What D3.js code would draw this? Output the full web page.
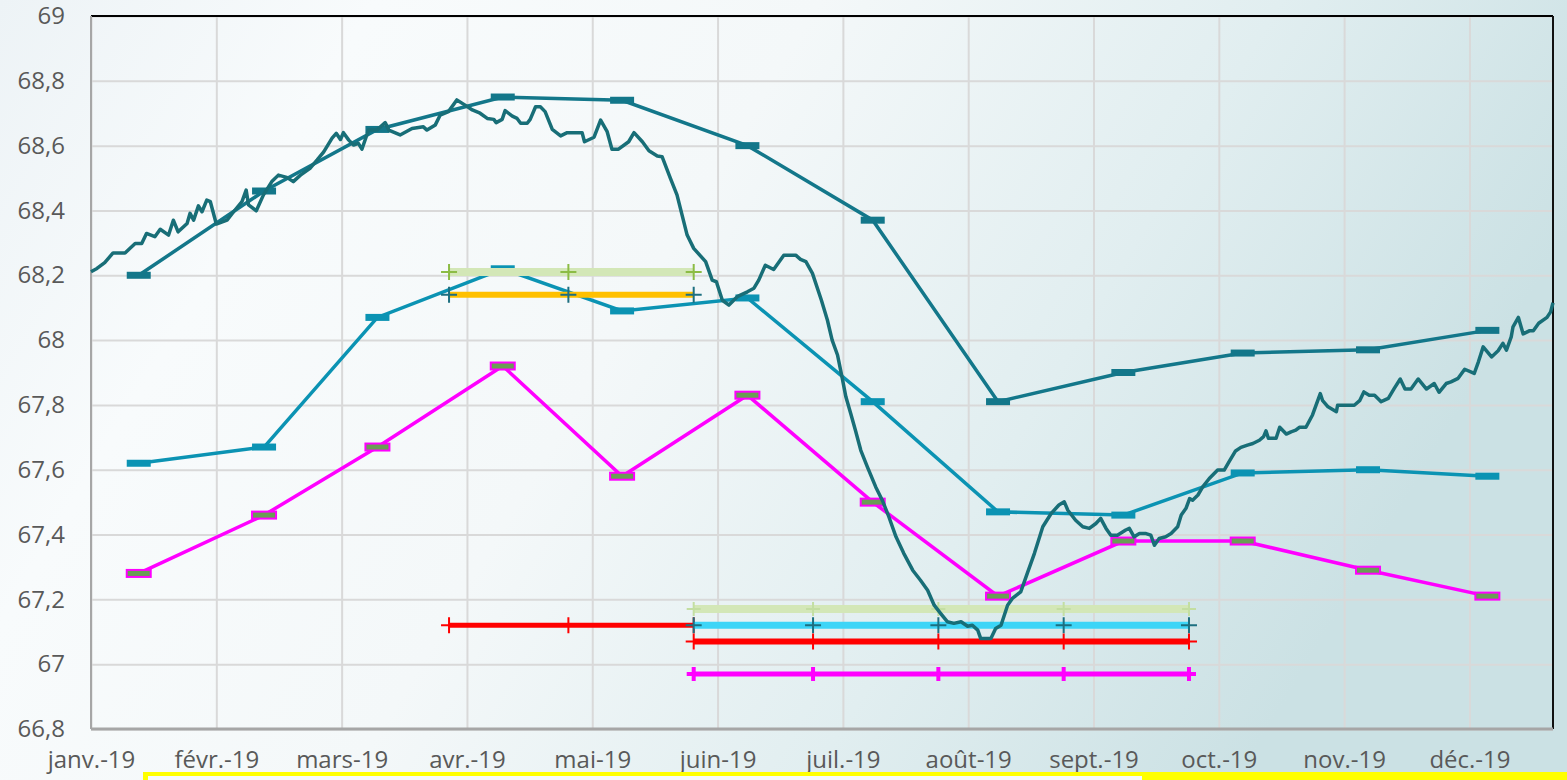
<!DOCTYPE html>
<html>
<head>
    <meta charset="utf-8">
    <style type="text/css">
        body {
            margin: 0;
            overflow: hidden;
            font-family: "Open Sans", sans-serif;
        }
        .grid line {
            stroke: #d9d9d9;
            stroke-width: 2px;
        }
        .grid path {
            display: none;
        }
        .labels text {
            fill: #595959;
            font-size: 24px;
            font-family: "Open Sans", sans-serif;
        }
        .labels path, .labels line {
            display: none;
        }
    </style>
    <title>Chart</title>
</head>
<body>
<script src="https://cdnjs.cloudflare.com/ajax/libs/d3/7.8.5/d3.min.js"></script>
<script>
    // ---- data ----------------------------------------------------------
    // x is the trading-day index (0 .. 245), one label every 21 days
    var monthLabels = ["janv.-19", "févr.-19", "mars-19", "avr.-19", "mai-19", "juin-19",
        "juil.-19", "août-19", "sept.-19", "oct.-19", "nov.-19", "déc.-19"];
    var monthTickDays = [0, 21, 42, 63, 84, 105, 126, 147, 168, 189, 210, 231];
    var lastDay = 245;
    var yTicks = [66.8, 67, 67.2, 67.4, 67.6, 67.8, 68, 68.2, 68.4, 68.6, 68.8, 69];

    // monthly series (dash markers)
    var monthlyDays = [8, 29, 48, 69, 89, 110, 131, 152, 173, 193, 214, 234];
    var seriesA = [68.20, 68.46, 68.65, 68.75, 68.74, 68.60, 68.37, 67.81, 67.90, 67.96, 67.97, 68.03];
    var seriesB = [67.62, 67.67, 68.07, 68.22, 68.09, 68.13, 67.81, 67.47, 67.46, 67.59, 67.60, 67.58];
    var seriesC = [67.28, 67.46, 67.67, 67.92, 67.58, 67.83, 67.50, 67.21, 67.38, 67.38, 67.29, 67.21];

    // flat levels with "+" markers
    var levelDays1 = [60, 80, 101];
    var levelDays2 = [101, 121, 142, 163, 184];
    var levelGreen1 = 68.21, levelOrange = 68.14, levelRed1 = 67.12;
    var levelGreen2 = 67.17, levelCyan = 67.12, levelRed2 = 67.07, levelMagenta = 66.97;

    // daily series [day, value]
    var daily = [[0,68.211],[1,68.221],[2.3,68.239],[3.7,68.269],[5.7,68.269],[7.4,68.298],[8.5,68.298],[9.3,68.329],
        [10.7,68.319],[11.6,68.342],[13,68.324],[13.8,68.37],[14.6,68.334],[16.1,68.36],[16.6,68.391],[17.2,68.37],
        [18,68.414],[18.6,68.396],[19.4,68.432],[20,68.427],[21,68.358],[22.8,68.37],[23.9,68.396],[25.3,68.427],
        [26,68.463],[26.4,68.417],[27.7,68.399],[28.9,68.448],[30.3,68.489],[31.4,68.509],[32.8,68.502],[33.9,68.489],
        [35.1,68.509],[36.7,68.53],[37.9,68.556],[39,68.581],[40.4,68.623],[41.1,68.638],[41.8,68.619],[42.3,68.64],
        [43.2,68.617],[44,68.602],[44.8,68.607],[45.4,68.589],[46.5,68.648],[47.9,68.648],[49.3,68.671],[49.9,68.648],
        [51.8,68.633],[53.8,68.653],[55.7,68.658],[56.3,68.648],[57.7,68.664],[58.5,68.694],[59.9,68.705],[61.3,68.741],
        [62.7,68.725],[63.9,68.71],[65.2,68.7],[66.4,68.684],[67.5,68.681],[67.9,68.671],[68.9,68.681],[69.4,68.708],
        [70.6,68.691],[71.4,68.684],[72,68.669],[73.1,68.669],[73.6,68.681],[74.5,68.72],[75.3,68.72],[76.1,68.705],
        [77.3,68.65],[78.7,68.63],[79.8,68.64],[82.3,68.64],[82.7,68.612],[84.3,68.626],[85.4,68.679],[86.5,68.643],
        [87.3,68.589],[88.4,68.589],[90.1,68.612],[91,68.64],[92.4,68.612],[93.5,68.584],[94.9,68.568],[95.7,68.566],
        [97.1,68.499],[98.2,68.448],[99.9,68.324],[101,68.283],[103,68.242],[104.1,68.185],[104.8,68.18],[105.8,68.123],
        [106.9,68.108],[108.3,68.134],[110,68.149],[111.1,68.16],[111.9,68.185],[113,68.231],[114.4,68.218],[116.1,68.262],
        [118.1,68.262],[118.9,68.249],[119.8,68.242],[120.9,68.206],[122.4,68.123],[123.4,68.062],[124.2,68],[125.1,67.954],
        [125.9,67.882],[126.5,67.825],[127.3,67.774],[128.1,67.722],[129,67.66],[130.1,67.609],[131.5,67.547],[132.6,67.506],
        [133.7,67.455],[134.9,67.393],[136.2,67.342],[137.7,67.29],[139,67.259],[140.2,67.228],[141.3,67.182],[142.4,67.156],
        [143.5,67.131],[144.6,67.126],[145.8,67.131],[146.9,67.117],[147.7,67.12],[148.6,67.105],[149.1,67.079],[150.8,67.079],
        [151.6,67.11],[152.5,67.12],[153.6,67.182],[154.4,67.203],[155.8,67.223],[156.9,67.28],[158.1,67.342],[159.5,67.424],
        [160.9,67.465],[162.2,67.491],[163.1,67.501],[163.7,67.475],[165,67.444],[166.2,67.424],[167.3,67.419],[168.4,67.434],
        [169.2,67.45],[170.1,67.419],[170.9,67.398],[172,67.398],[173.4,67.414],[174,67.419],[174.8,67.393],[175.7,67.403],
        [176.8,67.403],[177.6,67.398],[178.2,67.367],[179,67.388],[180.1,67.393],[181,67.403],[182.1,67.424],[182.7,67.46],
        [183.5,67.481],[184.1,67.511],[184.6,67.506],[185.5,67.522],[186.3,67.547],[187.4,67.573],[188.8,67.599],[189.9,67.599],
        [190.7,67.624],[191.8,67.658],[192.7,67.669],[193.8,67.676],[194.7,67.681],[195.8,67.691],[196.5,67.702],[196.9,67.72],
        [197.3,67.697],[198.6,67.697],[199.2,67.731],[200.3,67.71],[201.1,67.717],[201.9,67.722],[202.5,67.731],[203.6,67.731],
        [204.7,67.769],[206,67.835],[206.4,67.813],[207.3,67.794],[208.7,67.779],[208.9,67.799],[211.7,67.799],[212.6,67.813],
        [213.3,67.84],[214.2,67.83],[215.1,67.83],[216.2,67.81],[217.4,67.82],[218.4,67.851],[219.4,67.88],[220.2,67.849],
        [221.2,67.849],[222.4,67.88],[223.8,67.849],[225.1,67.866],[225.9,67.839],[227.1,67.866],[227.9,67.871],[229.1,67.882],
        [230.2,67.91],[231.8,67.897],[232.5,67.933],[233.3,67.979],[234.7,67.948],[235.8,67.967],[236.6,67.99],[237.2,67.969],
        [238,68.01],[238.3,68.041],[239.2,68.07],[240,68.019],[241.1,68.029],[241.7,68.029],[242.6,68.052],[244,68.07],
        [244.6,68.087],[245,68.115]];

    // ---- layout --------------------------------------------------------
    var W = 1567, H = 780;
    var margin = {top: 16, right: 14, bottom: 51, left: 91},
        width = W - margin.left - margin.right,
        height = H - margin.top - margin.bottom;

    var svg = d3.select("body").append("svg")
        .attr("width", W)
        .attr("height", H);

    // background gradient
    var grad = svg.append("defs").append("linearGradient")
        .attr("id", "bg").attr("x1", "0").attr("x2", "1").attr("y1", "0").attr("y2", "0.3");
    grad.append("stop").attr("offset", "0%").attr("stop-color", "#edf3f6");
    grad.append("stop").attr("offset", "22%").attr("stop-color", "#f8fbfc");
    grad.append("stop").attr("offset", "48%").attr("stop-color", "#f4f8f9");
    grad.append("stop").attr("offset", "75%").attr("stop-color", "#e1eef0");
    grad.append("stop").attr("offset", "100%").attr("stop-color", "#cbe1e4");
    svg.append("rect").attr("width", W).attr("height", H).attr("fill", "url(#bg)");

    var g = svg.append("g")
        .attr("transform", "translate(" + margin.left + "," + margin.top + ")");

    var x = d3.scaleLinear().domain([0, lastDay]).range([0, width]);
    var y = d3.scaleLinear().domain([66.8, 69]).range([height, 0]);

    // grid
    g.append("g").attr("class", "grid")
        .call(d3.axisLeft(y).tickValues(yTicks).tickSize(-width).tickFormat(""));
    g.append("g").attr("class", "grid")
        .attr("transform", "translate(0," + height + ")")
        .call(d3.axisBottom(x).tickValues(monthTickDays).tickSize(height).tickFormat(""))
        .selectAll("line").attr("y2", -height);

    // frame
    g.append("line").attr("x1", 0).attr("x2", width).attr("y1", 0).attr("y2", 0)
        .attr("stroke", "#000").attr("stroke-width", 2);
    g.append("line").attr("x1", width).attr("x2", width).attr("y1", 0).attr("y2", height)
        .attr("stroke", "#111").attr("stroke-width", 2);
    g.append("line").attr("x1", 0).attr("x2", 0).attr("y1", 0).attr("y2", height)
        .attr("stroke", "#a6a6a6").attr("stroke-width", 2);
    g.append("line").attr("x1", 0).attr("x2", width).attr("y1", height).attr("y2", height)
        .attr("stroke", "#a6a6a6").attr("stroke-width", 3);

    // axis labels
    g.append("g").attr("class", "labels")
        .call(d3.axisLeft(y).tickValues(yTicks).tickSize(0).tickPadding(26)
            .tickFormat(function (d) { return String(+d.toFixed(1)).replace(".", ","); }));
    g.append("g").attr("class", "labels")
        .attr("transform", "translate(0," + height + ")")
        .call(d3.axisBottom(x).tickValues(monthTickDays).tickSize(0).tickPadding(22)
            .tickFormat(function (d, i) { return monthLabels[i]; }));

    var line = d3.line().x(function (d) { return x(d[0]); }).y(function (d) { return y(d[1]); });

    // monthly series with dash markers
    function monthly(values, color, markFill, markStroke) {
        var pts = monthlyDays.map(function (d, i) { return [d, values[i]]; });
        g.append("path").datum(pts).attr("d", line)
            .attr("fill", "none").attr("stroke", color).attr("stroke-width", 3.5);
        g.selectAll(null).data(pts).enter().append("rect")
            .attr("x", function (d) { return x(d[0]) - 12; })
            .attr("y", function (d) { return y(d[1]) - 3.5; })
            .attr("width", 24).attr("height", 7)
            .attr("fill", markFill)
            .attr("stroke", markStroke || "none")
            .attr("stroke-width", 2);
    }
    monthly(seriesC, "#ff00ff", "#6a9c55", "#ff00ff");
    monthly(seriesB, "#0b93b3", "#0b93b3");
    monthly(seriesA, "#13778a", "#13778a");

    // flat levels with plus markers
    function level(days, value, color, lw, markColor, arm, mw) {
        var pts = days.map(function (d) { return [d, value]; });
        g.append("path").datum(pts).attr("d", line)
            .attr("fill", "none").attr("stroke", color).attr("stroke-width", lw);
        g.selectAll(null).data(pts).enter().append("path")
            .attr("transform", function (d) { return "translate(" + x(d[0]) + "," + y(d[1]) + ")"; })
            .attr("d", "M" + (-arm) + ",0H" + arm + "M0," + (-arm) + "V" + arm)
            .attr("stroke", markColor).attr("stroke-width", mw).attr("fill", "none");
    }
    level(levelDays1, levelGreen1, "#d3e7b7", 8, "#8cbc45", 8, 2);
    level(levelDays1, levelOrange, "#ffc000", 6, "#1d6f80", 8, 2);
    level(levelDays1, levelRed1, "#ff0000", 5, "#ff0000", 8, 2);
    level(levelDays2, levelGreen2, "#d3e7b7", 8, "#c3dea2", 7, 2);
    level(levelDays2, levelCyan, "#3dd5f7", 7, "#1d6f80", 8, 2);
    level(levelDays2, levelRed2, "#ff0000", 6, "#ff0000", 8, 2);
    level(levelDays2, levelMagenta, "#ff00ff", 5, "#ff00ff", 7, 4);

    // daily series
    g.append("path").datum(daily).attr("d", line)
        .attr("fill", "none").attr("stroke", "#186e77").attr("stroke-width", 3.5)
        .attr("stroke-linejoin", "round");

    // legend box edge at the bottom
    svg.append("rect").attr("x", 143).attr("y", 772).attr("width", W - 143).attr("height", 12)
        .attr("fill", "#ffff00");
    svg.append("rect").attr("x", 148).attr("y", 776).attr("width", 994).attr("height", 10)
        .attr("fill", "#f7fafb");
</script>
</body>
</html>
